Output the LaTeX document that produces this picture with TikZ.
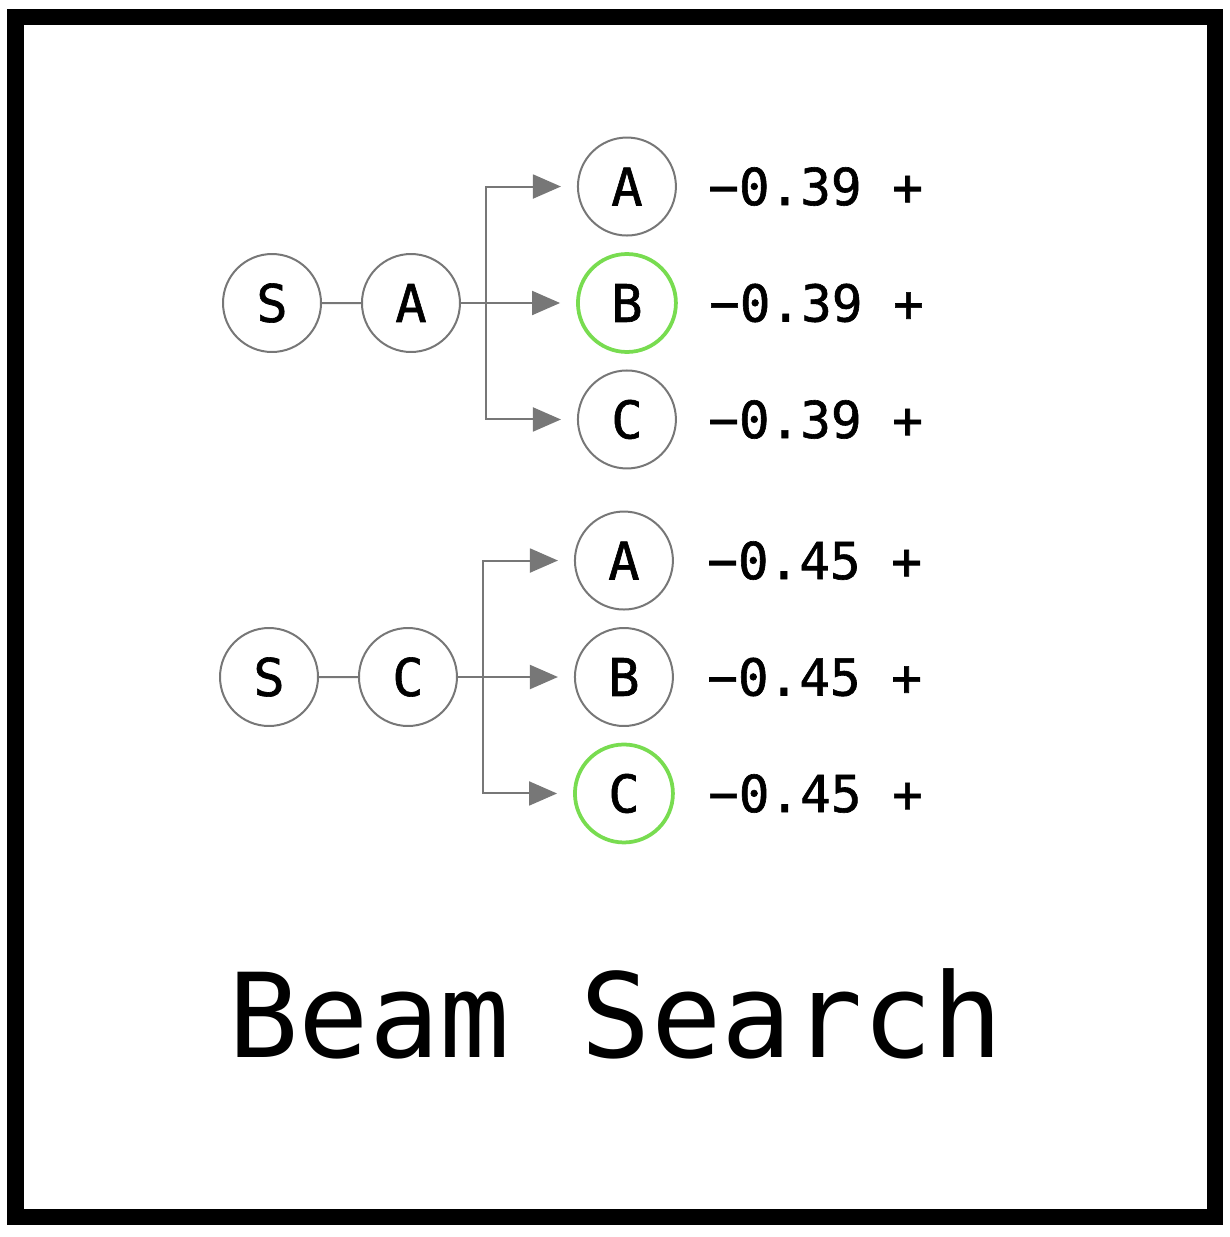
\documentclass[tikz,border=0pt]{standalone}
\usepackage{fontspec}
\setmonofont{DejaVu Sans Mono}
\newfontfamily\heavymono[FakeBold=1.2]{DejaVu Sans Mono}
\usetikzlibrary{positioning,arrows.meta}
\definecolor{edgegray}{HTML}{777777}
\definecolor{beamgreen}{HTML}{78DC50}

\tikzset{
  tok/.style={circle,draw=edgegray,line width=0.04cm,minimum size=1.96cm,inner sep=0pt},
  kept/.style={tok,draw=beamgreen,line width=0.075cm},
  score/.style={inner sep=0pt,font=\heavymono\fontsize{29}{30}\selectfont},
}

\begin{document}
\begin{tikzpicture}[x=0.02cm,y=0.02cm,
  font=\heavymono\fontsize{29.6}{30}\selectfont,
  edge from parent/.style={draw=edgegray,line width=0.04cm},
  level 1/.style={level distance=2.78cm},
  level 2/.style={level distance=4.32cm,sibling distance=2.33cm,
    edge from parent path={(\tikzparentnode.east) -- ++(25,0) |- (\tikzchildnode.west)},
    edge from parent/.style={draw=edgegray,line width=0.04cm,
      -{Triangle[length=0.56cm,width=0.48cm]},shorten >=0.32cm}}]
\useasboundingbox (0,0) rectangle (1230,-1237);
\draw [line width=0.33cm] (15.5,-17) rectangle (1215,-1217);
% first beam: S -> A
\node [tok] (s1) at (272,-303) {S} [grow'=right]
  child {node [tok] (p1) {A}
    child {node [tok] (a1) {A}}
    child {node [kept] (b1) {B}}
    child {node [tok] (c1) {C}}
  };
% second beam: S -> C
\node [tok] (s2) at (269,-677) {S} [grow'=right]
  child {node [tok] (p2) {C}
    child {node [tok] (a2) {A}}
    child {node [tok] (b2) {B}}
    child {node [kept] (c2) {C}}
  };
\node [score,right=0.62cm of a1] (sa1) {−0.39 +};
\node [score,right=0.62cm of b1] (sb1) {−0.39 +};
\node [score,right=0.62cm of c1] (sc1) {−0.39 +};
\node [score,right=0.66cm of a2] (sa2) {−0.45 +};
\node [score,right=0.66cm of b2] (sb2) {−0.45 +};
\node [score,right=0.66cm of c2] (sc2) {−0.45 +};
\node [anchor=base,font=\ttfamily\fontsize{66.6}{70}\selectfont] (ttl) at (616,-1057) {Beam Search};
\end{tikzpicture}
\end{document}
